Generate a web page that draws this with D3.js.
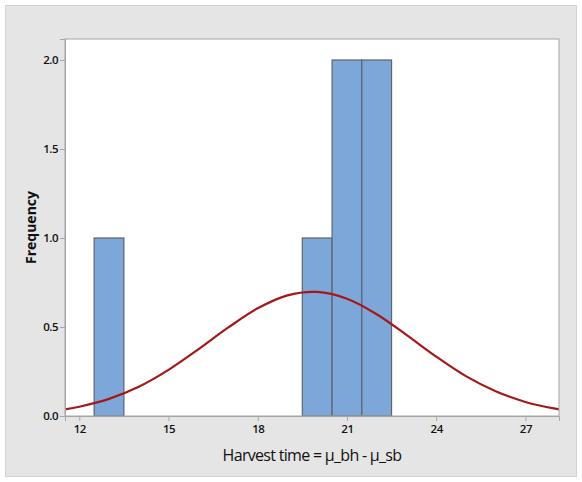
<!DOCTYPE html>
<html lang="en">
<head>
	<meta charset="utf-8">
	<title>Histogram of Harvest time</title>
	<script src="https://cdn.jsdelivr.net/npm/d3@7"></script>
	<style>
		body { margin: 0; background: #ffffff; }
		text { font-family: "Open Sans", "Noto Sans", sans-serif; }
	</style>
</head>
<body>
<div id="chart"></div>
<script type="text/javascript">

	// bin midpoints and frequencies (bin width 1)
	var binMids = [13, 14, 15, 16, 17, 18, 19, 20, 21, 22];
	var binCounts = [1, 0, 0, 0, 0, 0, 0, 1, 2, 2];
	var binWidth = 1;

	// fitted normal curve
	var curveX = [11.5, 12, 13, 14, 15, 16, 17, 18, 19, 20, 21, 22, 23, 24, 25, 26, 27, 28, 28.2];
	var curveY = [0.037, 0.052, 0.096, 0.164, 0.259, 0.374, 0.496, 0.605, 0.678, 0.697, 0.659, 0.572, 0.456, 0.334, 0.224, 0.139, 0.079, 0.041, 0.036];

	// tick labels
	var xTicks = [12, 15, 18, 21, 24, 27];
	var yTicks = [0, 0.5, 1.0, 1.5, 2.0];

	var width = 582, height = 482;
	var margin = {top: 39, right: 23, bottom: 66, left: 65};
	var plotW = width - margin.left - margin.right;
	var plotH = height - margin.top - margin.bottom;

	var svg = d3.select("#chart")
		.append("svg")
		.attr("width", width)
		.attr("height", height);

	// outer grey panel
	svg.append("rect")
		.attr("x", 5.5).attr("y", 5.5)
		.attr("width", 571).attr("height", 471)
		.attr("fill", "#e5e5e5")
		.attr("stroke", "#d2d2d2");

	var g = svg.append("g")
		.attr("transform", "translate(" + margin.left + "," + margin.top + ")");

	var xScale = d3.scaleLinear().domain([11.52, 28.13]).range([0, plotW]);
	var yScale = d3.scaleLinear().domain([0, 2.118]).range([plotH, 0]);

	// plot area
	g.append("rect")
		.attr("x", 0).attr("y", 0)
		.attr("width", plotW).attr("height", plotH)
		.attr("fill", "#ffffff");

	// bars
	g.selectAll("rect.bar")
		.data(binMids)
		.enter()
			.append("rect")
			.attr("class", "bar")
			.attr("x", function(d){ return xScale(d - binWidth/2); })
			.attr("width", function(d){ return xScale(d + binWidth/2) - xScale(d - binWidth/2); })
			.attr("y", function(d, i){ return yScale(binCounts[i]); })
			.attr("height", function(d, i){ return plotH - yScale(binCounts[i]); })
			.attr("fill", "#7da7d9")
			.attr("stroke", "#5b6470")
			.attr("stroke-width", 1.2);

	// fitted curve
	var line = d3.line()
		.x(function(d){ return xScale(d); })
		.y(function(d, i){ return yScale(curveY[i]); })
		.curve(d3.curveCatmullRom);

	g.append("clipPath").attr("id", "clip")
		.append("rect").attr("width", plotW).attr("height", plotH);

	g.append("path")
		.datum(curveX)
		.attr("d", line)
		.attr("clip-path", "url(#clip)")
		.attr("fill", "none")
		.attr("stroke", "#a31919")
		.attr("stroke-width", 2.2);

	// frame
	g.append("rect")
		.attr("x", 0).attr("y", 0)
		.attr("width", plotW).attr("height", plotH)
		.attr("fill", "none")
		.attr("stroke", "#a6a6a6");

	// axes
	var xAxis = d3.axisBottom(xScale).tickValues(xTicks).tickSize(5).tickPadding(4)
		.tickFormat(d3.format("d"));
	var yAxis = d3.axisLeft(yScale).tickValues(yTicks).tickSize(5).tickPadding(2)
		.tickFormat(d3.format(".1f"));

	var gx = g.append("g")
		.attr("transform", "translate(0," + plotH + ")")
		.call(xAxis);
	var gy = g.append("g").call(yAxis);

	[gx, gy].forEach(function(ax){
		ax.select(".domain").attr("stroke", "#a6a6a6");
		ax.selectAll(".tick line").attr("stroke", "#a6a6a6");
		ax.selectAll(".tick text")
			.attr("fill", "#111111")
			.style("font-size", "11.5px")
			.style("font-weight", "600")
			.style("letter-spacing", "-0.5px");
	});

	// axis titles
	svg.append("text")
		.attr("x", margin.left + plotW/2)
		.attr("y", 461)
		.attr("text-anchor", "middle")
		.attr("fill", "#111111")
		.style("font-size", "16px")
		.style("letter-spacing", "-0.7px")
		.text("Harvest time = \u00b5_bh - \u00b5_sb");

	svg.append("text")
		.attr("transform", "translate(36," + (margin.top + plotH/2) + ") rotate(-90)")
		.attr("text-anchor", "middle")
		.attr("fill", "#111111")
		.style("font-size", "14px")
		.style("font-weight", "bold")
		.text("Frequency");

</script>
</body>
</html>
